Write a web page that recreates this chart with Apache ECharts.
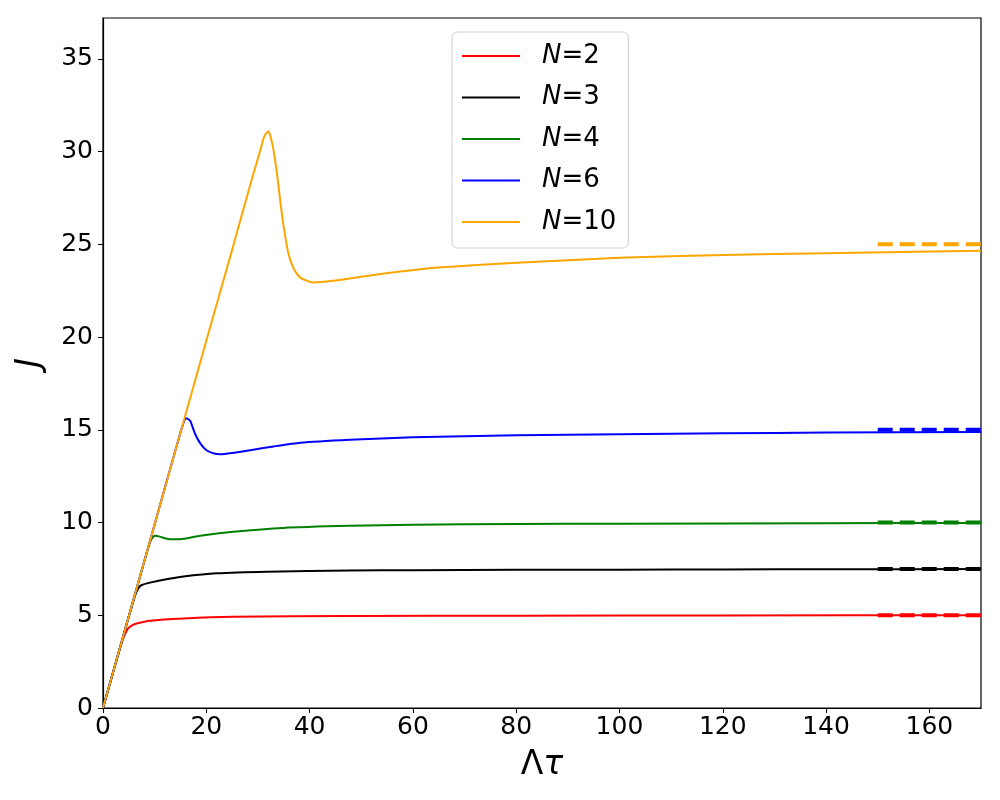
<!DOCTYPE html>
<html>
<head>
<meta charset="utf-8">
<script src="https://cdn.jsdelivr.net/npm/echarts@6/dist/echarts.min.js"></script>
<style>
  html, body { margin: 0; padding: 0; background: #fff; }
  #chart { width: 1000px; height: 800px; }
</style>
</head>
<body>
<div id="chart"></div>
<script>
// values (tau, J)
const tauN2 = [0, 2, 3, 3.6, 4.2, 4.9, 5.7, 6.5, 9.1, 15.6, 25.2, 47.8, 80, 120, 170];
const jN2   = [0, 1.98, 2.95, 3.5, 3.95, 4.3, 4.47, 4.56, 4.71, 4.83, 4.92, 4.96, 4.98, 4.99, 5.0];

const tauN3 = [0, 3, 5, 5.5, 6.2, 6.8, 7.5, 9.1, 12, 15.6, 22, 31.7, 47.8, 60, 80, 100, 120, 140, 170];
const jN3   = [0, 2.95, 4.95, 5.4, 6.05, 6.45, 6.63, 6.76, 6.93, 7.09, 7.26, 7.35, 7.41, 7.43, 7.45, 7.46, 7.47, 7.48, 7.49];

const tauN4 = [0, 5, 8, 8.5, 9.2, 9.7, 10.1, 11, 12, 13, 14.9, 18.8, 25.2, 34.9, 47.8, 60, 80, 100, 140, 170];
const jN4   = [0, 4.95, 7.9, 8.4, 9.0, 9.22, 9.28, 9.24, 9.15, 9.1, 9.1, 9.29, 9.5, 9.71, 9.82, 9.88, 9.92, 9.94, 9.96, 9.98];

const tauN6 = [0, 5, 10, 15, 16.1, 16.85, 17.8, 18.8, 20.1, 21.5, 22.7, 25, 28.5, 33, 38.2, 47.8, 60, 80, 100, 120, 140, 170];
const jN6   = [0, 4.95, 9.9, 14.85, 15.62, 15.5, 14.8, 14.28, 13.88, 13.72, 13.68, 13.75, 13.9, 14.1, 14.3, 14.46, 14.6, 14.7, 14.76, 14.81, 14.85, 14.88];

const tauN10 = [0, 5, 10, 15, 20, 25, 29, 30.5, 31.2, 32, 32.8, 33.6, 34.3, 34.9, 35.9, 36.9, 38.2, 40.7, 44.6, 50, 57.5, 65, 80, 100, 120, 140, 170];
const jN10   = [0, 4.95, 9.9, 14.85, 19.8, 24.7, 28.7, 30.1, 30.8, 31.1, 30.4, 29.0, 27.4, 26.1, 24.5, 23.7, 23.2, 22.94, 23.03, 23.25, 23.53, 23.75, 24.0, 24.27, 24.42, 24.52, 24.65];

// asymptotes (dashed, 150..170)
const limitTau = [150, 170];
const limitJ = [5, 7.5, 10, 15, 25];

const names  = ['N=2', 'N=3', 'N=4', 'N=6', 'N=10'];
const colors = ['#ff0000', '#000000', '#008000', '#0000ff', '#ffa500'];
const taus = [tauN2, tauN3, tauN4, tauN6, tauN10];
const js   = [jN2, jN3, jN4, jN6, jN10];

const chart = echarts.init(document.getElementById('chart'));
const font = 'DejaVu Sans';

const series = [];
names.forEach(function (n, i) {
  series.push({
    name: n,
    type: 'line',
    data: taus[i].map(function (t, k) { return [t, js[i][k]]; }),
    showSymbol: false,
    smooth: 0.2,
    lineStyle: { color: colors[i], width: 2 },
    itemStyle: { color: colors[i] },
    z: 2
  });
});
limitJ.forEach(function (v, i) {
  series.push({
    name: 'limit' + i,
    type: 'line',
    data: limitTau.map(function (t) { return [t, v]; }),
    showSymbol: false,
    lineStyle: { color: colors[i], width: 4, type: [15, 7] },
    z: 3
  });
});

const option = {
  animation: false,
  backgroundColor: '#fff',
  grid: {
    left: 103, right: 19, top: 18, bottom: 92,
    show: true, borderColor: '#000', borderWidth: 1.2
  },
  legend: {
    data: names,
    orient: 'vertical',
    left: 452, top: 32,
    padding: [11, 12, 13, 10],
    itemWidth: 58, itemHeight: 2, itemGap: 15.5,
    icon: 'rect',
    borderColor: '#d0d0d0', borderWidth: 1, borderRadius: 5,
    backgroundColor: 'rgba(255,255,255,0.8)',
    formatter: function (n) { return '{i|N}{t|' + n.slice(1) + '}'; },
    textStyle: {
      fontFamily: font, fontSize: 26, color: '#000',
      padding: [0, 0, 0, 17],
      rich: {
        i: { fontFamily: font, fontSize: 26, fontStyle: 'italic', color: '#000' },
        t: { fontFamily: font, fontSize: 26, color: '#000' }
      }
    }
  },
  xAxis: {
    type: 'value', min: 0, max: 170, interval: 20,
    name: '{a|Λ}{b|τ}',
    nameLocation: 'middle', nameGap: 41,
    nameTextStyle: {
      rich: {
        a: { fontFamily: font, fontSize: 33, color: '#000' },
        b: { fontFamily: font, fontSize: 33, fontStyle: 'italic', color: '#000' }
      }
    },
    axisLine: { onZero: false, lineStyle: { color: '#000', width: 1.2 } },
    axisTick: { show: true, length: 5, lineStyle: { color: '#000' } },
    axisLabel: { fontFamily: font, fontSize: 25, color: '#000', margin: 7, showMaxLabel: false },
    splitLine: { show: false }
  },
  yAxis: {
    type: 'value', min: 0, max: 37.2, interval: 5,
    name: 'J',
    nameLocation: 'middle', nameGap: 56,
    nameTextStyle: { fontFamily: font, fontSize: 33, fontStyle: 'italic', color: '#000' },
    axisLine: { onZero: false, lineStyle: { color: '#000', width: 1.2 } },
    axisTick: { show: true, length: 5, lineStyle: { color: '#000' } },
    axisLabel: { fontFamily: font, fontSize: 25, color: '#000', margin: 10, showMaxLabel: false },
    splitLine: { show: false }
  },
  series: series
};
chart.setOption(option);
</script>
</body>
</html>
